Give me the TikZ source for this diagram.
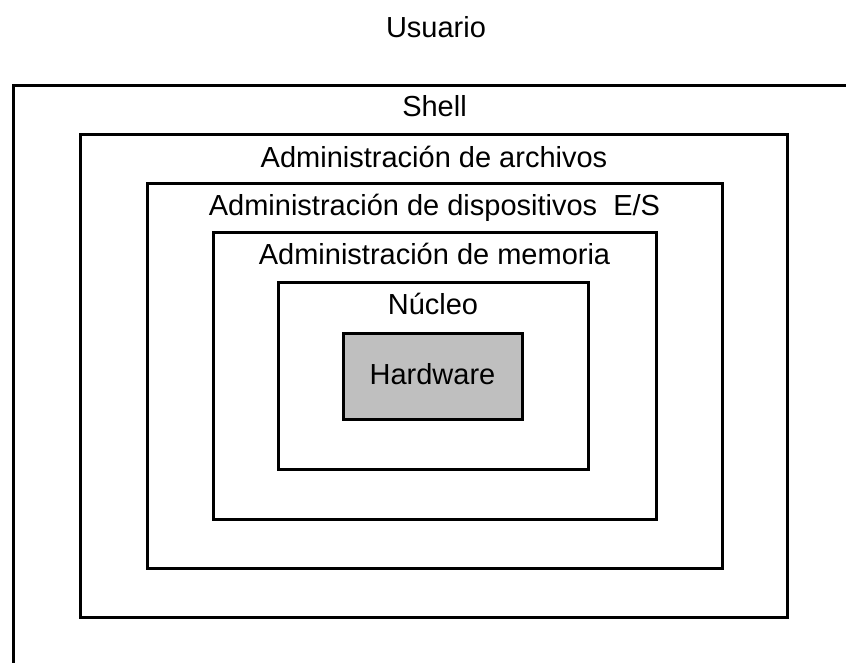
\documentclass[tikz,border=0pt]{standalone}
\usepackage{fontspec}
\setmainfont{Liberation Sans}
\usetikzlibrary{positioning}

\begin{document}
\begin{tikzpicture}[x=1pt,y=-1pt]
	\tikzstyle{capa}=[draw, rectangle, line width=3pt, inner sep=0pt]
	\tikzstyle{etq}=[anchor=base, inner sep=0pt, font=\fontsize{29}{34}\selectfont]

	\useasboundingbox (0,0) rectangle (846,662);
	\clip (0,0) rectangle (846,662);

	\node[etq] (user) at (436,37) {Usuario};

	\node[capa, minimum width=843pt, minimum height=582pt] (shell) at (434.5,376) {};
	\node[capa, minimum width=707pt, minimum height=483pt] (arch) at (434,376) {};
	\node[capa, minimum width=575pt, minimum height=385pt] (disp) at (434.5,375.5) {};
	\node[capa, minimum width=443pt, minimum height=287pt] (mem) at (434.5,375.5) {};
	\node[capa, minimum width=310pt, minimum height=187pt] (nucleo) at (433,375.5) {};
	\node[capa, fill=black!25, minimum width=179pt, minimum height=86pt,
		font=\fontsize{29}{34}\selectfont, text depth=5pt] (hw) at (432.5,376) {Hardware};

	\node[etq] (lshell) at ([yshift=-33pt]shell.north) {Shell};
	\node[etq] (larch) at ([yshift=-34pt]arch.north) {Administración de archivos};
	\node[etq] (ldisp) at ([yshift=-34pt]disp.north) {Administración de dispositivos\ \ E/S};
	\node[etq] (lmem) at ([yshift=-34pt]mem.north) {Administración de memoria};
	\node[etq] (lnucleo) at ([yshift=-34pt]nucleo.north) {Núcleo};
\end{tikzpicture}
\end{document}
